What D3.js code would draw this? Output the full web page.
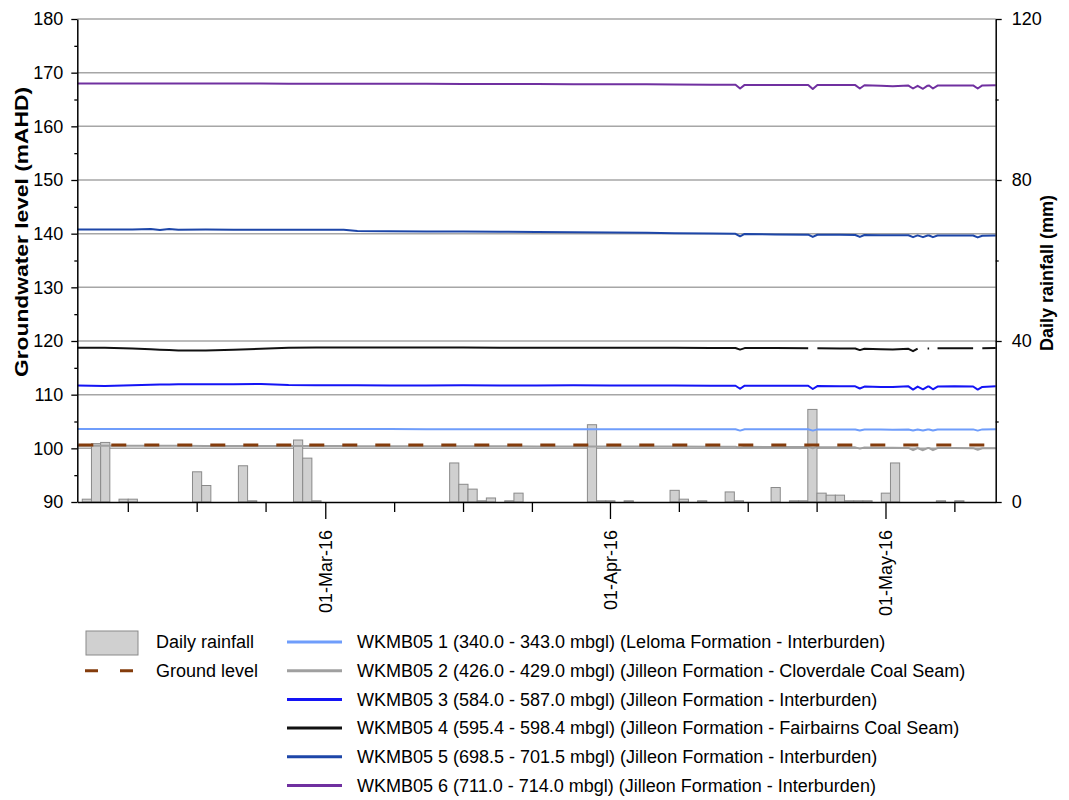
<!DOCTYPE html>
<html>
<head>
<meta charset="utf-8">
<script src="https://cdn.jsdelivr.net/npm/d3@7"></script>
<style>
  body { margin: 0; background: #fff; }
  text { font-family: "Liberation Sans", Arial, sans-serif; fill: #000; }
</style>
</head>
<body>
<div id="chart"></div>
<script>
// sampling times for the logger series (extra points around the dips)
var times = [
  "2016-02-03 00", "2016-02-06 00", "2016-02-09 00", "2016-02-11 00", "2016-02-12 00",
  "2016-02-13 00", "2016-02-14 00", "2016-02-17 00", "2016-02-20 00", "2016-02-23 00",
  "2016-02-26 00", "2016-02-29 00", "2016-03-03 00", "2016-03-04 12", "2016-03-08 00",
  "2016-03-12 00", "2016-03-16 00", "2016-03-20 00", "2016-03-24 00", "2016-03-28 00",
  "2016-04-01 00", "2016-04-05 00", "2016-04-08 00", "2016-04-12 00", "2016-04-14 16",
  "2016-04-15 04", "2016-04-15 16", "2016-04-19 00", "2016-04-22 14", "2016-04-23 02",
  "2016-04-23 14", "2016-04-26 00", "2016-04-27 17", "2016-04-28 05", "2016-04-28 17",
  "2016-04-30 12", "2016-05-01 19", "2016-05-03 12", "2016-05-04 00", "2016-05-04 12",
  "2016-05-05 02", "2016-05-05 14", "2016-05-05 18", "2016-05-06 04", "2016-05-06 16",
  "2016-05-08 12", "2016-05-10 13", "2016-05-11 01", "2016-05-11 13", "2016-05-13 00"
];

var wkmb1 = [103.62, 103.62, 103.60, 103.62, 103.60, 103.62, 103.60, 103.60, 103.60, 103.60,
  103.58, 103.58, 103.58, 103.58, 103.58, 103.57, 103.57, 103.57, 103.56, 103.56,
  103.56, 103.55, 103.55, 103.55, 103.54, 103.30, 103.54, 103.54, 103.54, 103.30,
  103.53, 103.52, 103.52, 103.32, 103.50, 103.50, 103.48, 103.52, 103.32, 103.52,
  103.32, 103.52, 103.52, 103.32, 103.52, 103.53, 103.53, 103.30, 103.53, 103.55];

var wkmb2 = [100.50, 100.50, 100.48, 100.48, 100.47, 100.47, 100.46, 100.45, 100.45, 100.44,
  100.43, 100.42, 100.42, 100.41, 100.40, 100.39, 100.38, 100.37, 100.36, 100.35,
  100.34, 100.33, 100.32, 100.30, 100.29, 100.10, 100.28, 100.26, 100.24, 100.00,
  100.22, 100.20, 100.18, 99.95, 100.16, 100.12, 100.10, 100.08, 99.65, 100.06,
  99.65, 100.05, 100.05, 99.65, 100.05, 100.05, 100.03, 99.75, 100.02, 100.02];

var wkmb3 = [111.70, 111.62, 111.75, 111.85, 111.88, 111.90, 111.92, 111.95, 111.95, 112.00,
  111.80, 111.75, 111.75, 111.75, 111.72, 111.72, 111.74, 111.72, 111.72, 111.74,
  111.72, 111.70, 111.70, 111.68, 111.66, 111.10, 111.68, 111.66, 111.66, 111.05,
  111.60, 111.55, 111.55, 111.15, 111.50, 111.42, 111.45, 111.55, 110.95, 111.50,
  111.00, 111.50, 111.50, 111.00, 111.50, 111.55, 111.52, 110.95, 111.45, 111.55];

// null = no reading (gaps in the record)
var wkmb4 = [118.75, 118.75, 118.60, 118.45, 118.38, 118.30, 118.25, 118.22, 118.35, 118.55,
  118.75, 118.80, 118.80, 118.78, 118.80, 118.78, 118.78, 118.76, 118.75, 118.75,
  118.74, 118.72, 118.72, 118.70, 118.70, 118.40, 118.68, 118.68, 118.66, null,
  118.65, 118.62, 118.60, 118.30, 118.55, 118.45, 118.40, 118.55, 118.10, 118.60,
  null, 118.62, 118.62, null, 118.65, 118.65, 118.65, null, 118.65, 118.68];

var wkmb5 = [140.78, 140.78, 140.78, 140.88, 140.68, 140.88, 140.72, 140.78, 140.75, 140.75,
  140.75, 140.72, 140.72, 140.48, 140.45, 140.42, 140.40, 140.35, 140.30, 140.25,
  140.20, 140.15, 140.10, 140.02, 139.98, 139.50, 139.95, 139.85, 139.82, 139.40,
  139.80, 139.78, 139.76, 139.40, 139.75, 139.72, 139.70, 139.70, 139.35, 139.68,
  139.35, 139.66, 139.66, 139.35, 139.65, 139.66, 139.65, 139.30, 139.62, 139.65];

var wkmb6 = [168.00, 168.00, 167.98, 167.98, 167.98, 167.98, 167.98, 167.97, 167.97, 167.96,
  167.95, 167.95, 167.95, 167.94, 167.93, 167.92, 167.90, 167.90, 167.88, 167.86,
  167.86, 167.85, 167.78, 167.76, 167.75, 167.05, 167.72, 167.72, 167.72, 166.95,
  167.70, 167.70, 167.68, 167.05, 167.65, 167.55, 167.45, 167.60, 167.05, 167.55,
  167.00, 167.58, 167.60, 167.05, 167.60, 167.62, 167.62, 167.05, 167.62, 167.65];

var groundLevel = 100.6;

// daily rainfall (mm), days with no rain left out
var rainDates = ["2016-02-04", "2016-02-05", "2016-02-06", "2016-02-08", "2016-02-09",
  "2016-02-16", "2016-02-17", "2016-02-21", "2016-02-22", "2016-02-27", "2016-02-28",
  "2016-02-29", "2016-03-15", "2016-03-16", "2016-03-17", "2016-03-18", "2016-03-19",
  "2016-03-21", "2016-03-22", "2016-03-30", "2016-03-31", "2016-04-01", "2016-04-03",
  "2016-04-08", "2016-04-09", "2016-04-11", "2016-04-14", "2016-04-15", "2016-04-19",
  "2016-04-21", "2016-04-22", "2016-04-23", "2016-04-24", "2016-04-25", "2016-04-26",
  "2016-04-27", "2016-04-28", "2016-04-29", "2016-05-01", "2016-05-02", "2016-05-07",
  "2016-05-09"];
var rainMm = [0.7, 14.5, 14.8, 0.7, 0.7,
  7.5, 4.1, 9.0, 0.3, 15.4, 10.9,
  0.3, 9.7, 4.4, 3.2, 0.3, 1.0,
  0.3, 2.2, 19.2, 0.3, 0.3, 0.3,
  2.9, 0.7, 0.3, 2.5, 0.3, 3.6,
  0.3, 0.3, 23.0, 2.2, 1.7, 1.7,
  0.3, 0.3, 0.3, 2.2, 9.7, 0.3,
  0.3];

var leftTicks = [90, 100, 110, 120, 130, 140, 150, 160, 170, 180];
var leftMinorTicks = [95, 105, 115, 125, 135, 145, 155, 165, 175];
var rightTicks = [0, 40, 80, 120];
var rightMinorTicks = [20, 60, 100];
var monthTicks = ["2016-03-01 00", "2016-04-01 00", "2016-05-01 00"];
var weekTicks = ["2016-02-08 12", "2016-02-16 00", "2016-02-23 12",
  "2016-03-08 12", "2016-03-16 00", "2016-03-23 12",
  "2016-04-08 12", "2016-04-16 00", "2016-04-23 12",
  "2016-05-08 12"];
var dateRange = ["2016-02-03 00", "2016-05-13 00"];

var seriesNames = [
  "WKMB05 1 (340.0 - 343.0 mbgl) (Leloma Formation - Interburden)",
  "WKMB05 2 (426.0 - 429.0 mbgl) (Jilleon Formation - Cloverdale Coal Seam)",
  "WKMB05 3 (584.0 - 587.0 mbgl) (Jilleon Formation - Interburden)",
  "WKMB05 4 (595.4 - 598.4 mbgl) (Jilleon Formation - Fairbairns Coal Seam)",
  "WKMB05 5 (698.5 - 701.5 mbgl) (Jilleon Formation - Interburden)",
  "WKMB05 6 (711.0 - 714.0 mbgl) (Jilleon Formation - Interburden)"
];
var seriesValues = [wkmb1, wkmb2, wkmb3, wkmb4, wkmb5, wkmb6];
var seriesColors = ["#6f9dfb", "#a0a0a0", "#1414f5", "#111111", "#1d46a8", "#7030a0"];
var groundColor = "#843c0c";

// chart geometry
var svgWidth = 1069;
var svgHeight = 800;
var plot = { left: 77.3, right: 995.7, top: 19, bottom: 502 };

var parseHour = d3.timeParse("%Y-%m-%d %H");
var parseDay = d3.timeParse("%Y-%m-%d");

var svg = d3.select("#chart")
  .append("svg")
  .attr("width", svgWidth)
  .attr("height", svgHeight)
  .style("display", "block");

var x = d3.scaleTime()
  .domain(dateRange.map(parseHour))
  .range([plot.left, plot.right]);

var yLeft = d3.scaleLinear()
  .domain([90, 180])
  .range([plot.bottom, plot.top]);

var yRight = d3.scaleLinear()
  .domain([0, 120])
  .range([plot.bottom, plot.top]);

// horizontal gridlines
svg.append("g")
  .selectAll("line")
  .data(leftTicks.filter(d => d > 90))
  .enter()
  .append("line")
  .attr("x1", plot.left)
  .attr("x2", plot.right)
  .attr("y1", d => yLeft(d))
  .attr("y2", d => yLeft(d))
  .attr("stroke", "#a6a6a6")
  .attr("stroke-width", 1.5);

// rainfall bars
var rain = rainDates.map((d, i) => ({ date: parseDay(d), mm: rainMm[i] }));
svg.append("g")
  .selectAll("rect")
  .data(rain)
  .enter()
  .append("rect")
  .attr("x", d => x(d3.timeHour.offset(d.date, -11)))
  .attr("width", d => x(d3.timeHour.offset(d.date, 13)) - x(d3.timeHour.offset(d.date, -11)))
  .attr("y", d => yRight(d.mm))
  .attr("height", d => yRight(0) - yRight(d.mm))
  .attr("fill", "#d0d0d0")
  .attr("stroke", "#8a8a8a")
  .attr("stroke-width", 1);

// groundwater series
var timeDates = times.map(parseHour);
var line = d3.line()
  .defined(d => d.v != null)
  .x(d => x(d.t))
  .y(d => yLeft(d.v));

seriesValues.forEach(function(vals, i) {
  var pts = vals.map((v, j) => ({ t: timeDates[j], v: v }));
  svg.append("path")
    .datum(pts)
    .attr("fill", "none")
    .attr("stroke", seriesColors[i])
    .attr("stroke-width", 2)
    .attr("stroke-linejoin", "round")
    .attr("d", line);
  if (i === 1) {
    // ground level sits over the shallow gray record
    svg.append("line")
      .attr("x1", plot.left + 1)
      .attr("x2", plot.right)
      .attr("y1", yLeft(groundLevel))
      .attr("y2", yLeft(groundLevel))
      .attr("stroke", groundColor)
      .attr("stroke-width", 3)
      .attr("stroke-dasharray", "15,18");
  }
});

// left axis
svg.append("g")
  .attr("transform", `translate(${plot.left},0)`)
  .call(d3.axisLeft(yLeft).tickValues(leftTicks).tickSize(6).tickSizeOuter(0).tickPadding(8));
svg.append("g")
  .attr("transform", `translate(${plot.left},0)`)
  .call(d3.axisLeft(yLeft).tickValues(leftMinorTicks).tickSize(3).tickFormat(""))
  .select(".domain").remove();

// right axis
svg.append("g")
  .attr("transform", `translate(${plot.right},0)`)
  .call(d3.axisRight(yRight).tickValues(rightTicks).tickSize(6).tickSizeOuter(0).tickPadding(10));
svg.append("g")
  .attr("transform", `translate(${plot.right},0)`)
  .call(d3.axisRight(yRight).tickValues(rightMinorTicks).tickSize(3).tickFormat(""))
  .select(".domain").remove();

// bottom axis
var bottomAxis = svg.append("g")
  .attr("transform", `translate(0,${plot.bottom})`)
  .call(d3.axisBottom(x).tickValues(monthTicks.map(parseHour)).tickSize(17).tickSizeOuter(0)
    .tickFormat(d3.timeFormat("%d-%b-%y")));
bottomAxis.selectAll(".tick text")
  .attr("transform", "rotate(-90)")
  .attr("text-anchor", "end")
  .attr("x", -28)
  .attr("y", 0)
  .attr("dy", "0.35em");
svg.append("g")
  .attr("transform", `translate(0,${plot.bottom})`)
  .call(d3.axisBottom(x).tickValues(weekTicks.map(parseHour)).tickSize(10).tickFormat(""))
  .select(".domain").remove();

svg.selectAll(".domain").attr("stroke", "#000").attr("stroke-width", 1.5);
svg.selectAll(".tick line").attr("stroke", "#000").attr("stroke-width", 1.3);
svg.selectAll(".tick text").style("font-size", "18px").attr("fill", "#000");

// axis titles
svg.append("text")
  .attr("transform", "translate(21,232) rotate(-90)")
  .attr("text-anchor", "middle")
  .attr("dy", "0.35em")
  .attr("textLength", 290)
  .attr("lengthAdjust", "spacingAndGlyphs")
  .style("font-size", "19px")
  .style("font-weight", "bold")
  .text("Groundwater level (mAHD)");

svg.append("text")
  .attr("transform", "translate(1047,273) rotate(-90)")
  .attr("text-anchor", "middle")
  .attr("dy", "0.35em")
  .style("font-size", "18px")
  .style("font-weight", "bold")
  .text("Daily rainfall (mm)");

// legend
var legend = svg.append("g");
var rowY = d => 642 + d * 28.7;

legend.append("rect")
  .attr("x", 86).attr("y", 631)
  .attr("width", 52).attr("height", 24)
  .attr("fill", "#d0d0d0")
  .attr("stroke", "#8a8a8a")
  .attr("stroke-width", 1);
legend.append("text")
  .attr("x", 156).attr("y", rowY(0)).attr("dy", "0.35em")
  .style("font-size", "18px")
  .text("Daily rainfall");

legend.append("line")
  .attr("x1", 85).attr("x2", 140)
  .attr("y1", rowY(1)).attr("y2", rowY(1))
  .attr("stroke", groundColor)
  .attr("stroke-width", 3)
  .attr("stroke-dasharray", "13,22");
legend.append("text")
  .attr("x", 156).attr("y", rowY(1)).attr("dy", "0.35em")
  .style("font-size", "18px")
  .text("Ground level");

seriesNames.forEach(function(name, i) {
  legend.append("line")
    .attr("x1", 287).attr("x2", 342)
    .attr("y1", rowY(i)).attr("y2", rowY(i))
    .attr("stroke", seriesColors[i])
    .attr("stroke-width", 3);
  legend.append("text")
    .attr("x", 357).attr("y", rowY(i)).attr("dy", "0.35em")
    .style("font-size", "18px")
    .text(name);
});
</script>
</body>
</html>
